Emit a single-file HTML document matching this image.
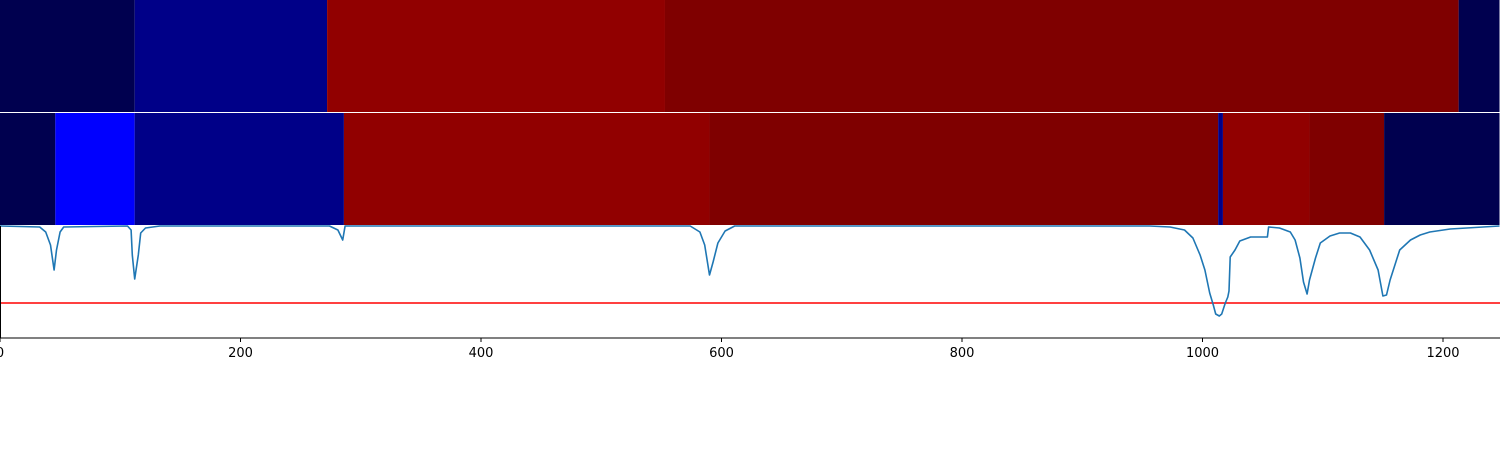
<!DOCTYPE html>
<html><head><meta charset="utf-8"><style>
body{margin:0;background:#fff;}
svg{display:block;font-family:"DejaVu Sans","Liberation Sans",sans-serif;}
</style></head><body>
<svg id="chart" width="1500" height="450" xmlns="http://www.w3.org/2000/svg"></svg>
<script>
const row1Bounds=[0,112,272,553,1213,1247];
const row1Colors=["#00004f","#000088","#910000","#7f0000","#00004f"];
const row2Bounds=[0,46,112,286,590,1013,1017,1089,1151,1247];
const row2Colors=["#00004f","#0000ff","#000088","#910000","#7f0000","#000088","#910000","#7f0000","#00004f"];
const lineX=[0,33,38,42,45,47,50,53,106,109,110,112,115,117,121,133,274,281,285,287,574,582,586,590,593,597,603,611,956,973,985,992,998,1002,1006,1009,1011,1014,1016,1019,1021,1022,1023,1027,1031,1040,1054,1055,1064,1073,1077,1081,1084,1087,1089,1094,1098,1106,1114,1123,1131,1139,1146,1150,1153,1156,1160,1164,1173,1181,1189,1206,1247];
const lineV=[0,1,6,19,44,24,6,1,0,4,29,53,29,7,2,0,0,4,14,0,0,6,19,49,36,17,5,0,0,1,4,12,29,44,67,79,88,90,88,77,71,65,31,24,15,11,11,1,2,6,14,32,56,68,54,32,17,10,7,7,11,24,44,70,69,54,39,24,14,9,6,3,0];
const threshold=77;
const ticks=[0,200,400,600,800,1000,1200];
const NS="http://www.w3.org/2000/svg";
const svg=document.getElementById('chart');
const X0=0,X1=1500,D0=0,D1=1247.4;
const sx=d=>X0+(d-D0)/(D1-D0)*(X1-X0);
const LT=226,LB=338;
const sy=v=>LT+v;
function mk(t,a){const e=document.createElementNS(NS,t);for(const k in a)e.setAttribute(k,a[k]);svg.appendChild(e);return e;}
function drawRow(bounds,colors,y0,h,name){
 for(let i=0;i<colors.length;i++){
  const r=mk('rect',{x:sx(bounds[i]),y:y0,width:sx(bounds[i+1])-sx(bounds[i]),height:h,fill:colors[i]});
  
  
 }
}
drawRow(row1Bounds,row1Colors,0,112,'row1');
drawRow(row2Bounds,row2Colors,113,112,'row2');
const th=mk('line',{x1:0,x2:1500,y1:sy(threshold),y2:sy(threshold),stroke:'#ff0000','stroke-width':1.5});


let d='';
for(let i=0;i<lineX.length;i++)d+=(i?'L':'M')+sx(lineX[i]).toFixed(1)+','+sy(lineV[i]).toFixed(1);
const p=mk('path',{d:d,fill:'none',stroke:'#1f77b4','stroke-width':1.6,'stroke-linejoin':'round'});


const ax=mk('line',{x1:0,x2:1500,y1:LB,y2:LB,stroke:'#000','stroke-width':1});


const ls=mk('line',{x1:0.5,x2:0.5,y1:LT,y2:LB,stroke:'#000','stroke-width':1});


ticks.forEach(t=>{
 const x=sx(t);
 const tl=mk('line',{x1:x,x2:x,y1:LB,y2:LB+4,stroke:'#000','stroke-width':1});
 
 
 const tx=mk('text',{x:x,y:LB+19,'text-anchor':'middle','font-size':13,fill:'#000'});
 tx.textContent=t;
 
 
});
</script>
</body></html>
